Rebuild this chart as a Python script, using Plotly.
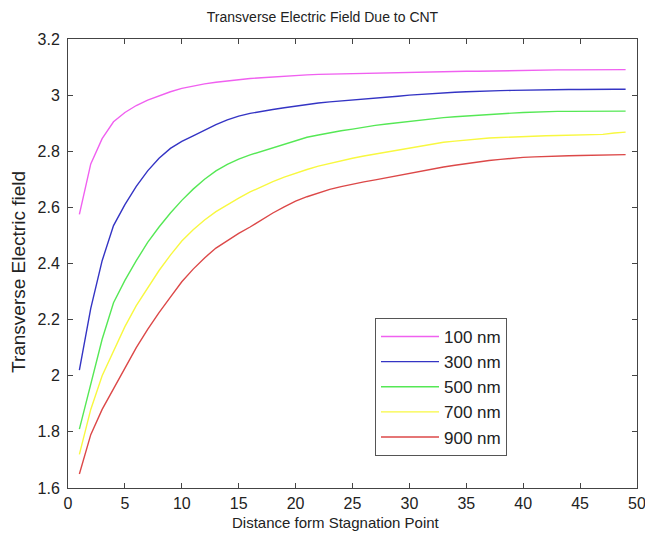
import plotly.graph_objects as go

x = list(range(1, 50))

labels = ["100 nm", "300 nm", "500 nm", "700 nm", "900 nm"]
colors = ["#f060f0", "#3434c4", "#55e855", "#f8f840", "#dc4848"]

e_100 = [2.575, 2.755, 2.845, 2.905, 2.938, 2.963, 2.982, 2.998, 3.012, 3.024,
         3.033, 3.040, 3.046, 3.051, 3.055, 3.059, 3.062, 3.065, 3.068, 3.070,
         3.072, 3.074, 3.075, 3.076, 3.077, 3.078, 3.079, 3.080, 3.081, 3.082,
         3.083, 3.083, 3.084, 3.084, 3.085, 3.085, 3.086, 3.087, 3.088, 3.088,
         3.089, 3.089, 3.090, 3.090, 3.090, 3.091, 3.091, 3.091, 3.091]
e_300 = [2.020, 2.240, 2.410, 2.535, 2.610, 2.675, 2.730, 2.775, 2.810, 2.835,
         2.855, 2.875, 2.895, 2.912, 2.925, 2.935, 2.943, 2.949, 2.955, 2.961,
         2.967, 2.972, 2.976, 2.979, 2.982, 2.985, 2.988, 2.992, 2.996, 3.000,
         3.003, 3.006, 3.008, 3.010, 3.012, 3.014, 3.015, 3.016, 3.017, 3.018,
         3.019, 3.019, 3.020, 3.020, 3.020, 3.021, 3.021, 3.021, 3.021]
e_500 = [1.810, 1.970, 2.130, 2.260, 2.340, 2.410, 2.475, 2.530, 2.580, 2.625,
         2.665, 2.700, 2.730, 2.753, 2.772, 2.787, 2.800, 2.812, 2.825, 2.838,
         2.850, 2.858, 2.866, 2.873, 2.879, 2.886, 2.892, 2.897, 2.902, 2.907,
         2.912, 2.916, 2.920, 2.923, 2.926, 2.929, 2.932, 2.934, 2.936, 2.938,
         2.940, 2.941, 2.942, 2.942, 2.942, 2.942, 2.943, 2.943, 2.943]
e_700 = [1.720, 1.880, 2.000, 2.090, 2.175, 2.250, 2.315, 2.375, 2.430, 2.480,
         2.520, 2.555, 2.585, 2.610, 2.633, 2.655, 2.674, 2.692, 2.708, 2.722,
         2.735, 2.747, 2.757, 2.766, 2.775, 2.783, 2.790, 2.798, 2.805, 2.812,
         2.819, 2.826, 2.832, 2.836, 2.840, 2.844, 2.847, 2.849, 2.851, 2.853,
         2.854, 2.855, 2.856, 2.857, 2.858, 2.859, 2.860, 2.865, 2.868]
e_900 = [1.650, 1.790, 1.880, 1.955, 2.030, 2.100, 2.165, 2.225, 2.280, 2.335,
         2.380, 2.420, 2.455, 2.482, 2.507, 2.530, 2.556, 2.580, 2.602, 2.622,
         2.638, 2.652, 2.664, 2.674, 2.683, 2.691, 2.698, 2.706, 2.714, 2.722,
         2.730, 2.737, 2.744, 2.750, 2.756, 2.762, 2.767, 2.771, 2.775, 2.778,
         2.780, 2.782, 2.783, 2.784, 2.785, 2.786, 2.787, 2.788, 2.788]

x_ticks = [0, 5, 10, 15, 20, 25, 30, 35, 40, 45, 50]
y_ticks = [1.6, 1.8, 2.0, 2.2, 2.4, 2.6, 2.8, 3.0, 3.2]
y_tick_text = ["1.6", "1.8", "2", "2.2", "2.4", "2.6", "2.8", "3", "3.2"]

title_text = "Transverse Electric Field Due to CNT"
x_title = "Distance form Stagnation Point"
y_title = "Transverse Electric field"

series = [e_100, e_300, e_500, e_700, e_900]

fig = go.Figure()
for lab, col, ys in zip(labels, colors, series):
    fig.add_trace(go.Scatter(x=x, y=ys, mode="lines", name=lab, legendgroup=lab,
                             line=dict(color=col, width=1.4)))

font_family = "Liberation Sans, Arial, sans-serif"
txt = "#222222"
axis_common = dict(
    showline=True, linecolor="#444444", linewidth=1, mirror="allticks",
    ticks="inside", ticklen=5, tickcolor="#444444", showgrid=False,
    zeroline=False, automargin=False, ticklabeloverflow="allow",
    tickfont=dict(size=16, color=txt, family=font_family),
)

W, H = 645, 534
L, R, T, B = 68, 8, 39, 46
pw, ph = W - L - R, H - T - B

fig.update_layout(
    width=W, height=H,
    margin=dict(l=L, r=R, t=T, b=B, autoexpand=False),
    paper_bgcolor="white", plot_bgcolor="white",
    title=dict(text=title_text, x=0.5, xanchor="center",
               y=1 - 17 / H, yanchor="middle",
               font=dict(size=14, color=txt, family=font_family)),
    xaxis=dict(range=[0, 50], tickvals=x_ticks, ticklabelstandoff=1, **axis_common),
    yaxis=dict(range=[1.6, 3.2], tickvals=y_ticks, ticktext=y_tick_text,
               ticklabelstandoff=4, **axis_common),
    legend=dict(x=(375 - L) / pw, y=(H - B - 318) / ph, xanchor="left", yanchor="top",
                bgcolor="white", bordercolor="#555555", borderwidth=1,
                font=dict(size=17, color=txt, family=font_family),
                itemwidth=58, tracegroupgap=0, traceorder="grouped"),
    showlegend=True,
    annotations=[
        dict(text=x_title, xref="paper", yref="paper",
             x=(336 - L) / pw, y=(H - B - 522) / ph, xanchor="center", yanchor="middle",
             showarrow=False, font=dict(size=15, color=txt, family=font_family)),
        dict(text=y_title, xref="paper", yref="paper", textangle=-90,
             x=(18 - L) / pw, y=(H - B - 272) / ph, xanchor="center", yanchor="middle",
             showarrow=False, font=dict(size=19, color=txt, family=font_family)),
    ],
)

fig.write_html("out.html", post_script="document.body.style.margin='0';",
               config={"displayModeBar": False})
